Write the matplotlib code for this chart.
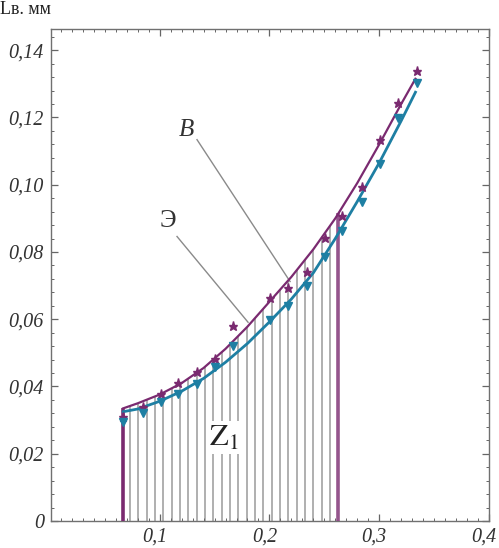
import numpy as np
import matplotlib
matplotlib.use("Agg")
import matplotlib.pyplot as plt
import matplotlib.transforms as mtransforms
from matplotlib.ticker import MultipleLocator, FixedLocator

plt.rcParams['mathtext.fontset'] = 'stix'

# Curves (B - purple, Э - teal)
curve_x = [0.0668, 0.08, 0.10, 0.12, 0.14, 0.16, 0.18, 0.20, 0.22, 0.24, 0.26, 0.28, 0.30, 0.32, 0.333]
curve_B = [0.0335, 0.0350, 0.0376, 0.0410, 0.0455, 0.0512, 0.0578, 0.0652, 0.0726, 0.0808, 0.0900, 0.1005, 0.1120, 0.1240, 0.1315]
curve_E = [0.0325, 0.0333, 0.0356, 0.0386, 0.0424, 0.0472, 0.0528, 0.0592, 0.0660, 0.0738, 0.0840, 0.0950, 0.1065, 0.1190, 0.1275]

# Measured points
pts_x = [0.067, 0.085, 0.101, 0.117, 0.134, 0.150, 0.167, 0.2005, 0.217, 0.234, 0.251, 0.266, 0.284, 0.301, 0.317, 0.334]
pts_B = [0.0310, 0.0340, 0.0378, 0.0410, 0.0443, 0.0482, 0.0580, 0.0663, 0.0693, 0.0740, 0.0843, 0.0908, 0.0993, 0.1132, 0.1242, 0.1337]
pts_E = [0.0293, 0.0322, 0.0354, 0.0378, 0.0407, 0.0458, 0.0520, 0.0597, 0.0640, 0.0698, 0.0785, 0.0862, 0.0948, 0.1061, 0.1198, 0.1302]

# Z1 region
z_start = 0.0668
z_end = 0.2628
hatch_x = np.linspace(0.0729, 0.2552, 25)

yticks = [0, 0.02, 0.04, 0.06, 0.08, 0.10, 0.12, 0.14]
ytick_labels = ["0", "0,02", "0,04", "0,06", "0,08", "0,10", "0,12", "0,14"]
xticks = [0.1, 0.2, 0.3, 0.4]
xtick_labels = ["0,1", "0,2", "0,3", "0,4"]

purple = "#7a2a70"
teal = "#1e7fa3"
grey = "#9a9a9a"

fig = plt.figure(figsize=(4.99, 5.48), dpi=100)
ax = fig.add_axes([51/499, 27/548, 438/499, 492/548])
ax.set_xlim(0.001, 0.4)
ax.set_ylim(0, 0.1463)

# hatch lines
tops = np.interp(hatch_x, curve_x, curve_B)
ax.vlines(hatch_x, 0, tops, color=grey, lw=1.1, zorder=1)
# boundary lines
ax.vlines([z_start], 0, [np.interp(z_start, curve_x, curve_B)], color=purple, lw=2.6, zorder=3)
ax.vlines([z_end], 0, [np.interp(z_end, curve_x, curve_B)], color=purple, lw=2.6, alpha=0.8, zorder=3)

ax.plot(curve_x, curve_E, color=teal, lw=2.0, zorder=4)
ax.plot(curve_x, curve_B, color=purple, lw=1.6, zorder=5)
ax.plot(pts_x, pts_B, ls='none', marker='*', ms=6.5, color=purple, zorder=6)
ax.plot(pts_x, pts_E, ls='none', marker='v', ms=6, color=teal, zorder=6)

# annotations
ax.plot([0.134, 0.2188], [0.1134, 0.0712], color="#8a8a8a", lw=1.0, zorder=2)
ax.plot([0.1158, 0.1805], [0.0846, 0.0591], color="#8a8a8a", lw=1.0, zorder=2)
ax.text(0.124, 0.1164, "B", fontfamily="Liberation Serif", style="italic", fontsize=18,
        ha="center", va="center", color="#333333")
ax.text(0.1076, 0.0891, "Э", fontfamily="Liberation Serif", fontsize=18,
        ha="center", va="center", color="#333333")
ax.text(0.158, 0.0248, r"$\mathrm{Z}_1$", fontsize=22, ha="center", va="center", color="#222222",
        bbox=dict(facecolor="white", edgecolor="none", pad=1.5), zorder=7)

# ticks
ax.xaxis.set_major_locator(FixedLocator(xticks))
ax.set_xticklabels(xtick_labels)
ax.xaxis.set_minor_locator(MultipleLocator(0.01))
ax.yaxis.set_major_locator(FixedLocator(yticks))
ax.set_yticklabels(ytick_labels)
ax.yaxis.set_minor_locator(MultipleLocator(0.004))
ax.tick_params(which="both", direction="in", top=True, right=True, color="#666666")
ax.tick_params(which="major", length=5, width=0.9)
ax.tick_params(which="minor", length=2.5, width=0.7)
ax.tick_params(axis="x", pad=5)
ax.tick_params(axis="y", pad=5)
shift = mtransforms.ScaledTranslation(-5/100, 0, fig.dpi_scale_trans)
for lab in ax.get_xticklabels():
    lab.set_transform(lab.get_transform() + shift)
for lab in ax.get_xticklabels() + ax.get_yticklabels():
    lab.set_fontfamily("Liberation Serif")
    lab.set_style("italic")
    lab.set_fontsize(14.5)
    lab.set_color("#333333")
for sp in ax.spines.values():
    sp.set_color("#707070")
    sp.set_linewidth(1.0)

fig.text(0.0, 1 - 9/548, "Lв. мм", fontfamily="Liberation Serif", fontsize=13,
         ha="left", va="center", color="#222222")

fig.savefig("out.png", dpi=100)
